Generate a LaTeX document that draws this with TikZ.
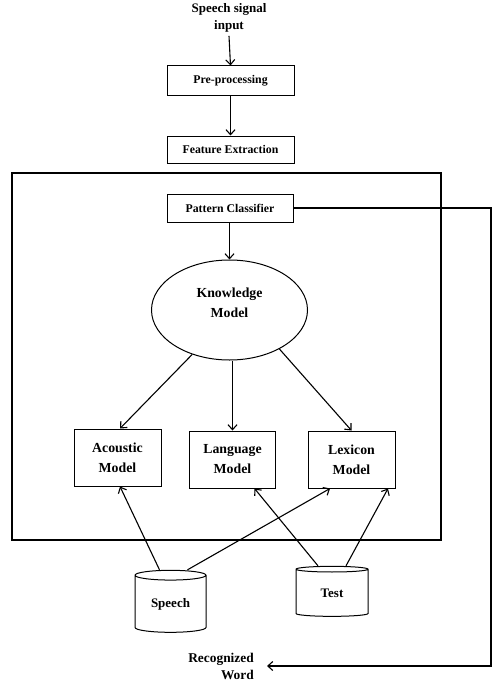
\documentclass[tikz,border=0pt]{standalone}
\usepackage{fontspec}
\setmainfont{Liberation Serif}
\usetikzlibrary{shapes.geometric,arrows.meta}
\begin{document}
\begin{tikzpicture}[x=1pt,y=-1pt,
  every node/.style={font=\bfseries},
  box/.style={draw,line width=1pt,rectangle,inner sep=0pt,align=center},
  small/.style={font=\bfseries\fontsize{11.8}{14}\selectfont},
  big/.style={font=\bfseries\fontsize{13.8}{20}\selectfont},
  db/.style={draw,line width=1pt,cylinder,shape border rotate=90,aspect=0.25,inner sep=0pt,font=\bfseries\fontsize{13}{15}\selectfont},
  arr/.style={line width=1.1pt,-{Straight Barb[length=5pt,width=9pt,line width=1.1pt]}}]
\useasboundingbox (0,0) rectangle (502,685);
\node[align=center,font=\bfseries\fontsize{13}{17}\selectfont] (in) at (229,18) {Speech signal\\input};
\node[box,small,minimum width=127,minimum height=29] (pp) at (230.5,80.5) {Pre-processing};
\node[box,small,minimum width=127,minimum height=27] (fe) at (230.5,149.5) {Feature Extraction};
\node[draw,line width=1.8pt,minimum width=429,minimum height=367,inner sep=0pt] (frame) at (226.5,356.5) {};
\node[box,small,minimum width=126,minimum height=28] (pc) at (230,208) {Pattern Classifier};
\node[draw,line width=1pt,ellipse,minimum width=156,minimum height=100,inner sep=0pt,big,align=center] (km) at (229.5,310) {Knowledge\\Model\\[-6pt]\mbox{}};
\node[box,big,minimum width=87,minimum height=57] (ac) at (117.5,457.5) {Acoustic\\Model};
\node[box,big,minimum width=86,minimum height=57] (la) at (232.5,459.5) {Language\\Model};
\node[box,big,minimum width=87,minimum height=57] (lx) at (351.5,459.5) {Lexicon\\Model};
\node[db,minimum width=71,minimum height=62] (sp) at (170.5,604) {Speech};
\node[db,minimum width=72,minimum height=50] (te) at (332,593) {Test};
\node[align=right,anchor=east,inner xsep=13pt,inner ysep=0pt,font=\bfseries\fontsize{13.4}{17}\selectfont] (rw) at (267,666) {Recognized\\Word};
\coordinate (rc) at (491,666);
\draw[arr] (in.south) -- (pp.north);
\draw[arr] (pp.south) -- (fe.north);
\draw[arr] (pc.south -| km.north) -- (km.north);
\draw[arr] (km.230) -- ([xshift=2.5pt]ac.north);
\draw[arr] (km.south -| la.north) -- (la.north);
\draw[arr] (km.322) -- (lx.north);
\draw[arr] ([xshift=-11pt]sp.north) -- ([xshift=2.5pt]ac.south);
\draw[arr] ([xshift=17pt]sp.north) -- ([xshift=-21.5pt]lx.south);
\draw[arr] ([xshift=-14pt]te.north) -- ([xshift=22pt]la.south);
\draw[arr] ([xshift=14pt]te.north) -- ([xshift=36.5pt]lx.south);
\draw[arr] (pc.east) -| (rc) -- (rw.east);
\end{tikzpicture}
\end{document}
